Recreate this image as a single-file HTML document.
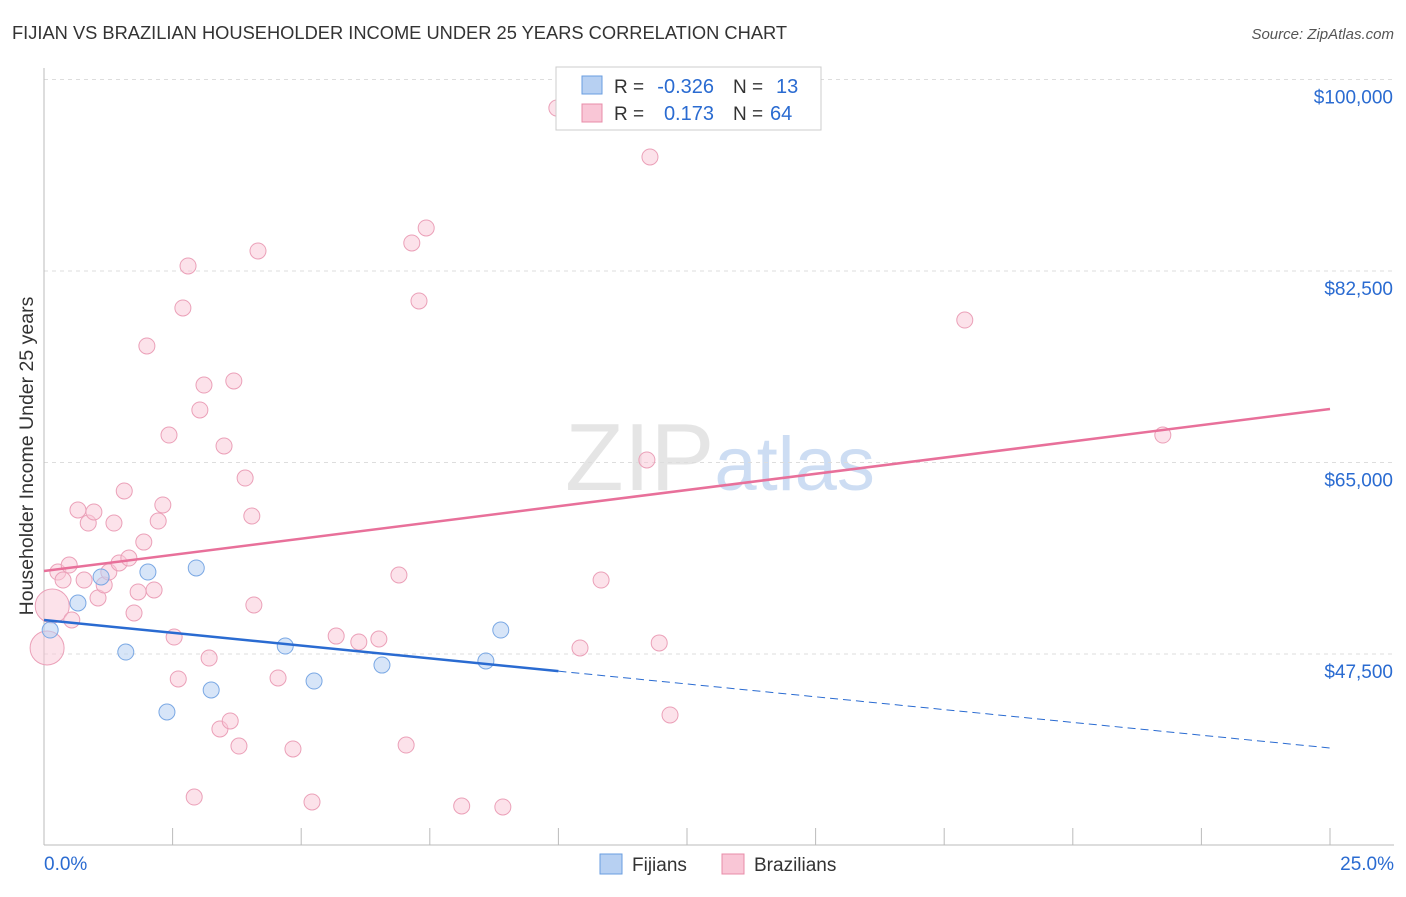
<!DOCTYPE html>
<html><head><meta charset="utf-8">
<style>
body{margin:0;background:#fff;font-family:"Liberation Sans",sans-serif;}
svg text{font-family:"Liberation Sans",sans-serif;}
</style></head>
<body>
<svg id="chart" width="1406" height="892" xmlns="http://www.w3.org/2000/svg">
<text x="12" y="39" font-size="18.3" fill="#333">FIJIAN VS BRAZILIAN HOUSEHOLDER INCOME UNDER 25 YEARS CORRELATION CHART</text>
<text x="1394" y="39" font-size="15" fill="#555" text-anchor="end" font-style="italic">Source: ZipAtlas.com</text>
<text x="720" y="490" font-size="96" text-anchor="middle" fill="#ccc" opacity="0.5" font-family="Liberation Serif"><tspan>ZIP</tspan><tspan fill="#9dbde8" font-family="Liberation Sans" font-size="76">atlas</tspan></text>
<text transform="translate(33,456) rotate(-90)" font-size="19.5" fill="#333" text-anchor="middle">Householder Income Under 25 years</text>
<g id="grid"></g>
<g id="axes"></g>
<g id="marks"></g>
<g>
<rect x="556" y="67" width="265" height="63" fill="#fff" stroke="#ccc"/>
<rect x="582" y="76" width="20" height="18" fill="#b7d0f2" stroke="#6a9ee0"/>
<rect x="582" y="104" width="20" height="18" fill="#f9c6d6" stroke="#e88ca8"/>
<text x="614" y="93" font-size="19" fill="#333">R =</text>
<text x="714" y="93" font-size="20" fill="#2a6bd1" text-anchor="end">-0.326</text>
<text x="733" y="93" font-size="19" fill="#333">N =</text>
<text x="776" y="93" font-size="20" fill="#2a6bd1">13</text>
<text x="614" y="120" font-size="19" fill="#333">R =</text>
<text x="714" y="120" font-size="20" fill="#2a6bd1" text-anchor="end">0.173</text>
<text x="733" y="120" font-size="19" fill="#333">N =</text>
<text x="770" y="120" font-size="20" fill="#2a6bd1">64</text>
</g>
<g>
<rect x="600" y="854" width="22" height="20" fill="#b7d0f2" stroke="#6a9ee0"/>
<text x="632" y="871" font-size="19" fill="#333">Fijians</text>
<rect x="722" y="854" width="22" height="20" fill="#f9c6d6" stroke="#e88ca8"/>
<text x="754" y="871" font-size="19" fill="#333">Brazilians</text>
</g>
</svg>
<script>
const yTicks=[47500,65000,82500,100000];
const yTickLabels=["$47,500","$65,000","$82,500","$100,000"];
const xTickLabels=["0.0%","25.0%"];
const fijX=[0.12,0.66,1.11,1.59,2.02,2.39,2.96,3.25,4.69,5.25,6.57,8.59,8.88];
const fijY=[49690,52160,54540,47680,54990,42200,55360,44210,48230,45030,46490,46860,49690];
const braX=[0.06,0.16,0.27,0.37,0.49,0.54,0.66,0.78,0.86,0.97,1.05,1.17,1.26,1.36,1.46,1.56,1.65,1.75,1.83,1.94,2.00,2.14,2.22,2.31,2.43,2.53,2.61,2.70,2.80,2.92,3.03,3.11,3.21,3.42,3.50,3.62,3.69,3.79,3.91,4.04,4.08,4.16,4.55,4.84,5.21,5.68,6.12,6.51,6.90,7.04,7.15,7.29,7.43,8.12,8.92,9.97,10.42,10.83,11.72,11.78,11.96,12.17,17.90,21.75];
const braY=[48050,51890,54990,54260,55630,50610,60660,54260,59470,60480,52620,53810,54990,59470,55820,62400,56270,51250,53170,57730,75650,53350,59650,61120,67510,49050,45220,79120,82960,34430,69800,72080,47130,40650,66510,41380,72450,39090,63580,60110,51980,84330,45310,38820,33980,49140,48600,48870,54720,39180,85060,79760,86430,33610,33520,97390,48050,54260,65230,92920,48510,41930,78020,67510];
const fijTrend=[50610,38910];
const braTrend=[55080,69890];
const NS="http://www.w3.org/2000/svg";
const X=v=>44+v*51.44;
const Y=v=>654-(v-47500)*0.010943;
function mk(tag,attrs,parent){const e=document.createElementNS(NS,tag);for(const k in attrs)e.setAttribute(k,attrs[k]);document.getElementById(parent).appendChild(e);return e;}
yTicks.forEach((t,i)=>{
 const l=mk('line',{x1:44,x2:1394,y1:Y(t),y2:Y(t),stroke:'#ddd','stroke-dasharray':'4,4'},'grid');
 
 
 const tx=mk('text',{x:1393,y:Y(t)+24,'font-size':19,fill:'#2a6bd1','text-anchor':'end'},'axes');
 tx.textContent=yTickLabels[i];
 
 
});
let a=mk('line',{x1:44,x2:44,y1:68,y2:845,stroke:'#bbb'},'axes');


a=mk('line',{x1:44,x2:1394,y1:845,y2:845,stroke:'#bbb'},'axes');


for(let i=0;i<=10;i++){const t=mk('line',{x1:X(i*2.5),x2:X(i*2.5),y1:828,y2:845,stroke:'#bbb'},'axes');
 
 }
[[0,'start',44],[1,'end',1394]].forEach(([i,anc,x])=>{const t=mk('text',{x:x,y:870,'font-size':19,fill:'#2a6bd1','text-anchor':anc},'axes');t.textContent=xTickLabels[i];
 
 });
braX.forEach((x,i)=>{const r=(i<2)?17:8;const c=mk('circle',{cx:X(x),cy:Y(braY[i]),r:r,fill:'#f9c6d6','fill-opacity':0.5,stroke:'#eba0b8','stroke-width':1},'marks');
 
 });
fijX.forEach((x,i)=>{const c=mk('circle',{cx:X(x),cy:Y(fijY[i]),r:8,fill:'#b7d0f2','fill-opacity':0.55,stroke:'#7aa8e4','stroke-width':1},'marks');
 
 });
const bt=v=>braTrend[0]+(braTrend[1]-braTrend[0])*v/25;
const ft=v=>fijTrend[0]+(fijTrend[1]-fijTrend[0])*v/25;
let l=mk('line',{x1:X(0),y1:Y(bt(0)),x2:X(25),y2:Y(bt(25)),stroke:'#e8709a','stroke-width':2.5},'marks');


l=mk('line',{x1:X(0),y1:Y(ft(0)),x2:X(10),y2:Y(ft(10)),stroke:'#2a6bd1','stroke-width':2.5},'marks');


l=mk('line',{x1:X(10),y1:Y(ft(10)),x2:X(25),y2:Y(ft(25)),stroke:'#2a6bd1','stroke-width':1,'stroke-dasharray':'8,5'},'marks');


</script>
</body></html>
